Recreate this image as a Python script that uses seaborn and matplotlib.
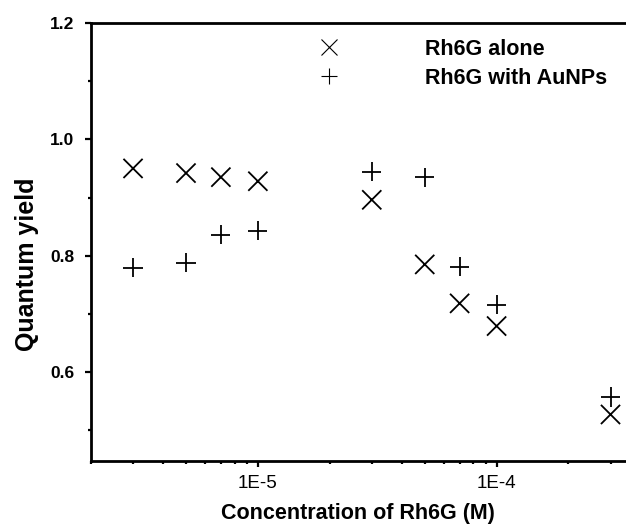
import numpy as np
import pandas as pd
import seaborn as sns
import matplotlib.pyplot as plt
from matplotlib.ticker import FixedLocator, LogLocator, MultipleLocator, NullFormatter

# Data
conc = [3e-6, 5e-6, 7e-6, 1e-5, 3e-5, 5e-5, 7e-5, 1e-4, 3e-4]
qy_alone = [0.950, 0.942, 0.935, 0.928, 0.896, 0.785, 0.718, 0.679, 0.527]
qy_aunps = [0.779, 0.788, 0.836, 0.843, 0.944, 0.935, 0.781, 0.716, 0.557]
series = ['Rh6G alone', 'Rh6G with AuNPs']
xticks = [1e-5, 1e-4]
xticklabels = ['1E-5', '1E-4']
yticks = [0.6, 0.8, 1.0, 1.2]

df = pd.DataFrame({
    'conc': conc * 2,
    'qy': qy_alone + qy_aunps,
    'series': [series[0]] * len(conc) + [series[1]] * len(conc),
})

sns.set_style('ticks', {'axes.edgecolor': 'black', 'text.color': 'black',
                        'xtick.color': 'black', 'ytick.color': 'black',
                        'axes.labelcolor': 'black'})
plt.rcParams['font.family'] = ['Liberation Sans', 'DejaVu Sans']

fig = plt.figure(figsize=(6.26, 5.26), dpi=100)
ax = fig.add_axes([91 / 626, 1 - 461 / 526, (625 - 91) / 626, (461 - 23) / 526])

sns.scatterplot(data=df, x='conc', y='qy', style='series',
                markers={series[0]: 'x', series[1]: '+'},
                color='black', s=190, linewidth=1.3, ax=ax)

ax.set_xscale('log')
ax.set_xlim(2e-6, 3.45e-4)
ax.set_ylim(0.447, 1.2)

ax.xaxis.set_major_locator(FixedLocator(xticks))
ax.set_xticklabels(xticklabels, fontsize=13.5)
ax.xaxis.set_minor_locator(LogLocator(base=10, subs=np.arange(2, 10)))
ax.xaxis.set_minor_formatter(NullFormatter())
ax.yaxis.set_major_locator(FixedLocator(yticks))
ax.set_yticklabels([f'{v:.1f}' for v in yticks], fontsize=12.5, fontweight='bold')
ax.yaxis.set_minor_locator(MultipleLocator(0.2, offset=0.1))

ax.tick_params(which='major', direction='out', length=4, width=1.6, pad=6)
ax.tick_params(which='minor', direction='out', length=2.5, width=1.6)
ax.tick_params(axis='y', which='major', pad=8)

for side in ['left', 'bottom', 'top']:
    ax.spines[side].set_linewidth(2)
ax.spines['right'].set_visible(False)

ax.set_xlabel('Concentration of Rh6G (M)', fontsize=15.5, fontweight='bold', labelpad=8)
ax.set_ylabel('Quantum yield', fontsize=18, fontweight='bold')
ax.yaxis.set_label_coords(-0.098, 0.45)

leg = ax.legend(loc='upper left', bbox_to_anchor=(307 / 626, 1 - 28 / 526),
                bbox_transform=fig.transFigure, frameon=False,
                handlelength=1.0, handletextpad=4.0, borderpad=0, labelspacing=0.38,
                prop={'weight': 'bold', 'size': 15.5})
for h in leg.legend_handles:
    h.set_markersize(12)
    h.set_markeredgewidth(0.8)

fig.savefig('out.png', dpi=100)
